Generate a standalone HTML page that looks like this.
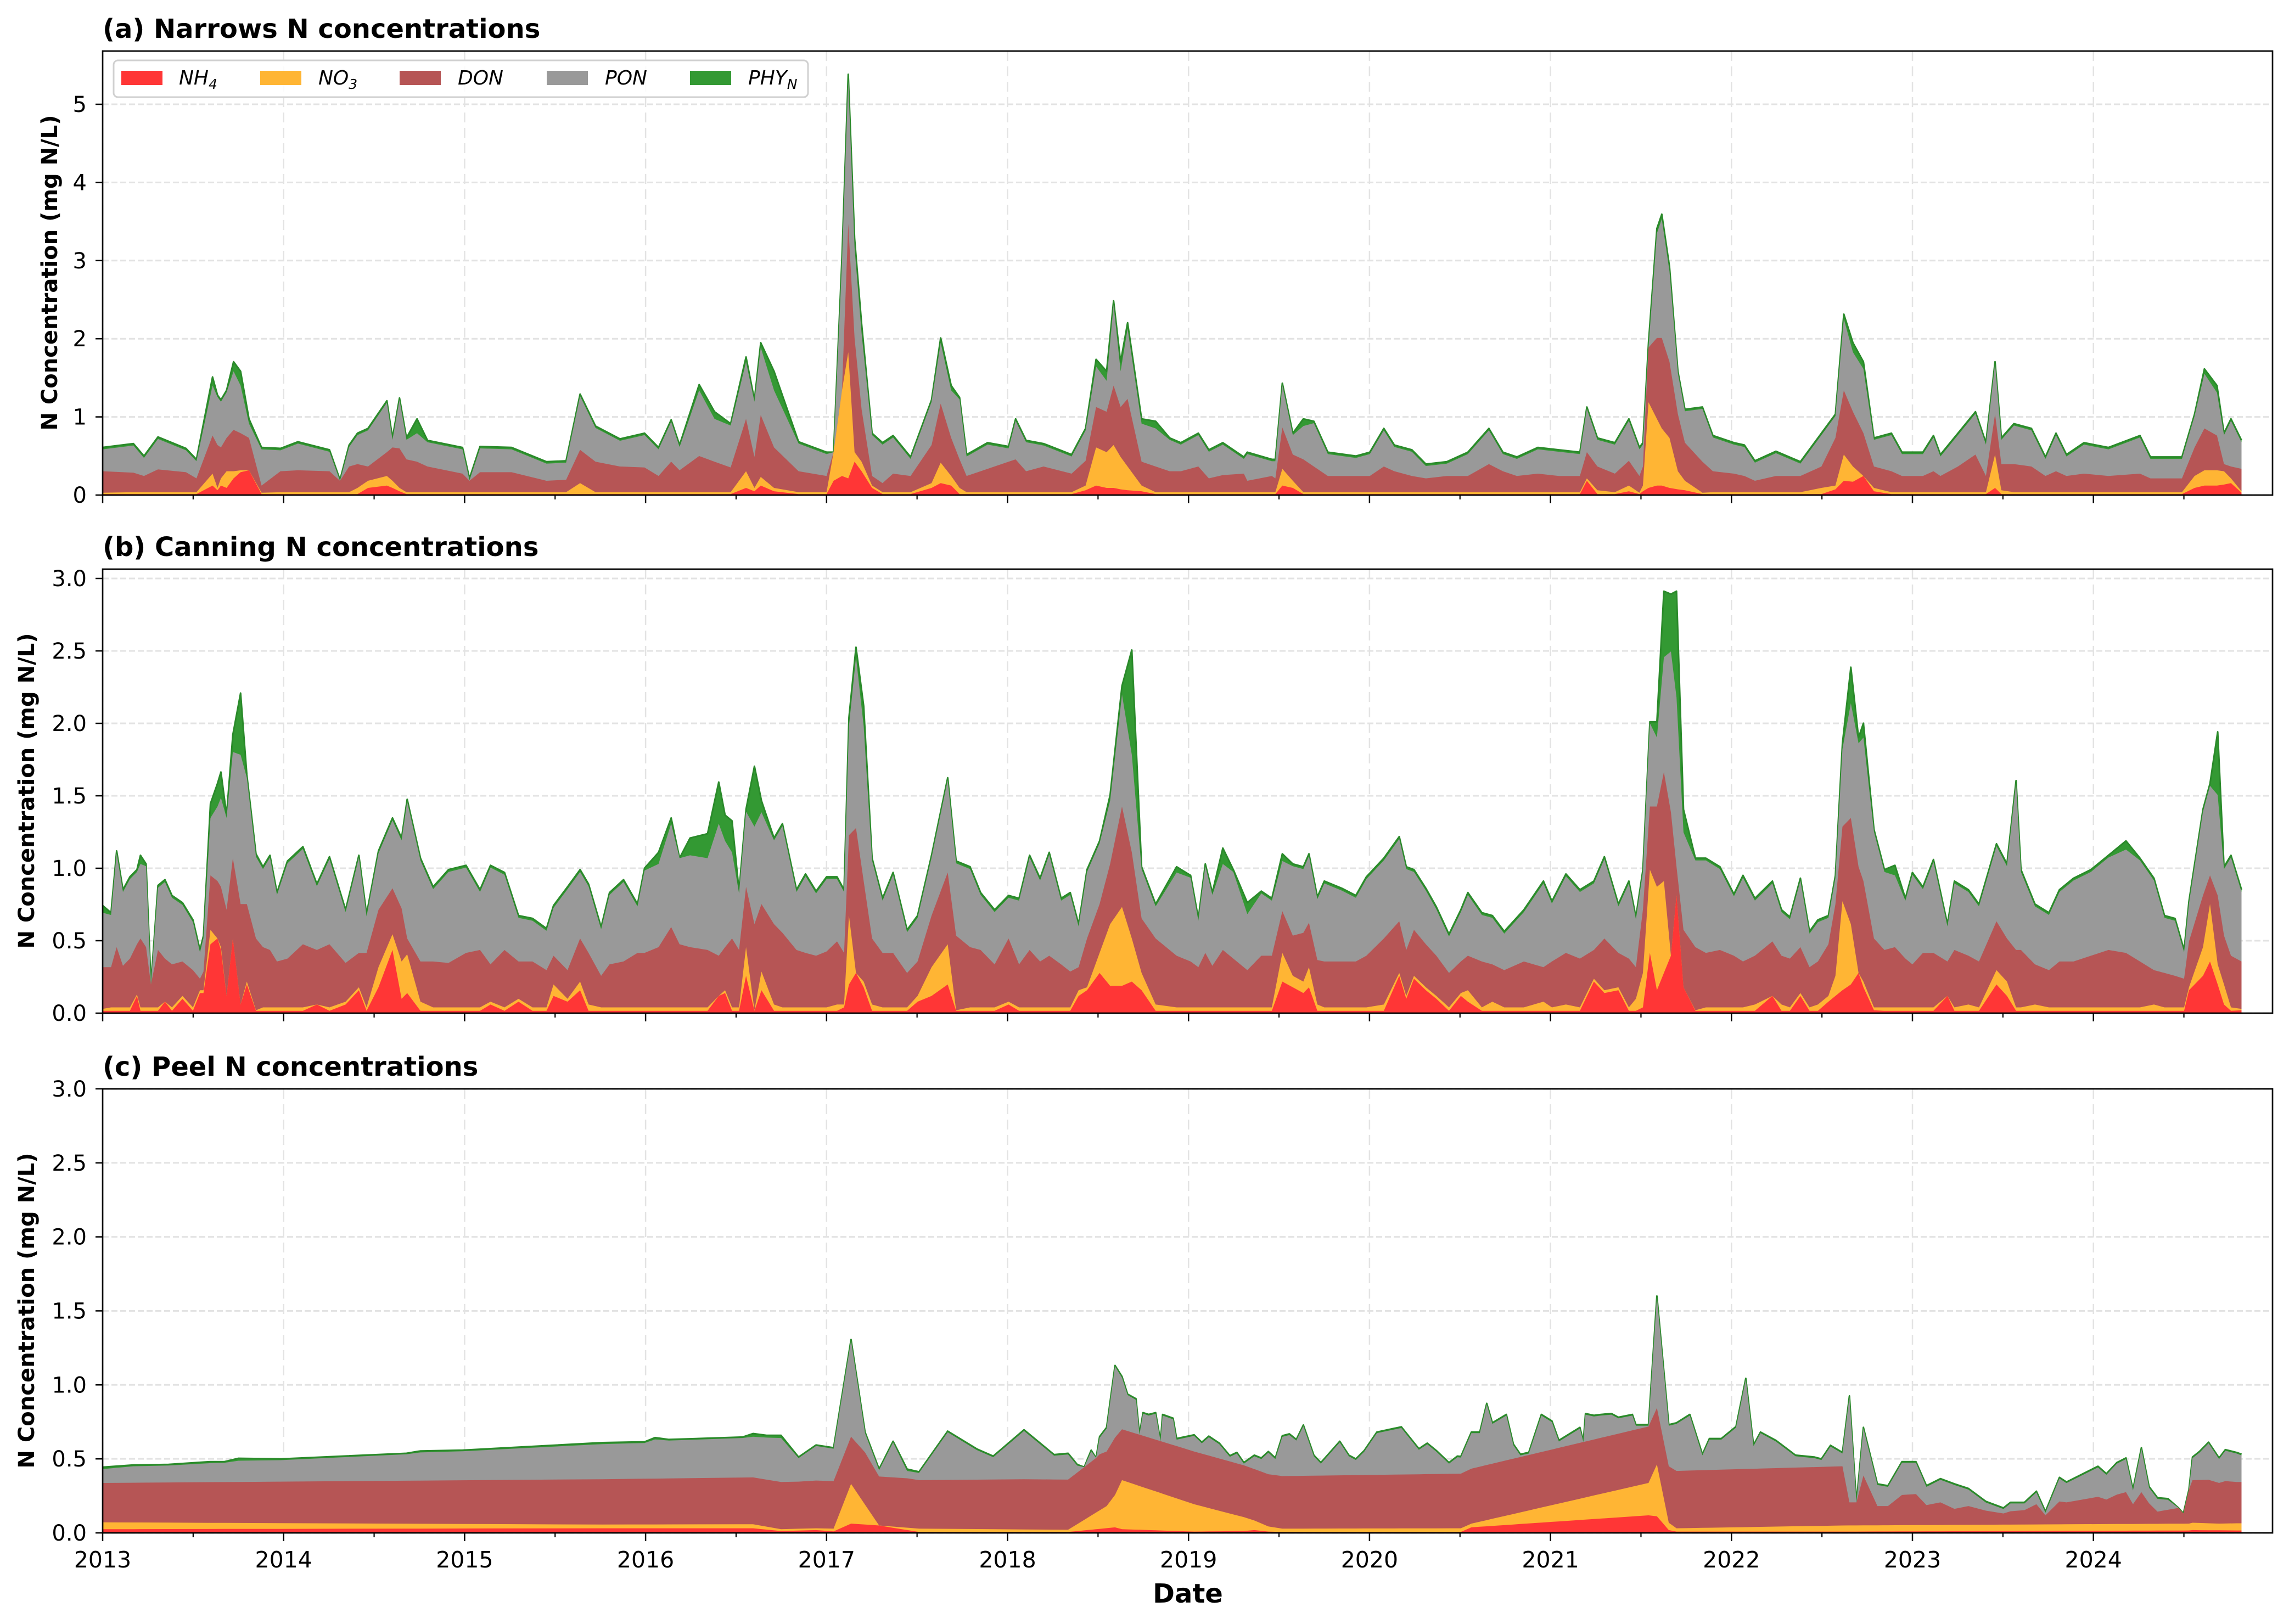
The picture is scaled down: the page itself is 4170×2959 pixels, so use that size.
<!DOCTYPE html>
<html><head><meta charset="utf-8"><style>
html,body{margin:0;padding:0;background:#fff;}
svg{display:block;font-family:"DejaVu Sans","Liberation Sans",sans-serif;}
</style></head><body>
<svg id="s" xmlns="http://www.w3.org/2000/svg" width="4170" height="2959" viewBox="0 0 4170 2959">
<rect width="4170" height="2959" fill="#fff"/>
<g id="grid"></g>
<g id="data"></g>
<g id="axes"></g>
<g font-size="40" fill="#000">
<text x="187" y="69" font-size="48" font-weight="bold">(a) Narrows N concentrations</text>
<text x="187" y="1013" font-size="48" font-weight="bold">(b) Canning N concentrations</text>
<text x="187" y="1960" font-size="48" font-weight="bold">(c) Peel N concentrations</text>
<text transform="translate(104,497) rotate(-90)" text-anchor="middle" font-size="40" font-weight="bold">N Concentration (mg N/L)</text>
<text transform="translate(62,1441) rotate(-90)" text-anchor="middle" font-size="40" font-weight="bold">N Concentration (mg N/L)</text>
<text transform="translate(62,2388) rotate(-90)" text-anchor="middle" font-size="40" font-weight="bold">N Concentration (mg N/L)</text>
<text x="2164" y="2920" text-anchor="middle" font-size="48" font-weight="bold">Date</text>
</g>
<g id="legend">
<rect x="207" y="110" width="1265" height="67" rx="8" fill="#fff" fill-opacity="0.85" stroke="#d0d0d0" stroke-width="3"/>
<rect x="221" y="129" width="75" height="26" fill="#ff3636"/>
<rect x="474" y="129" width="75" height="26" fill="#ffb534"/>
<rect x="728" y="129" width="75" height="26" fill="#b65555"/>
<rect x="996" y="129" width="75" height="26" fill="#999999"/>
<rect x="1257" y="129" width="75" height="26" fill="#339933"/>
<g font-size="36" font-style="italic" fill="#000">
<text x="326" y="154">NH<tspan font-size="25" dy="8">4</tspan></text>
<text x="580" y="154">NO<tspan font-size="25" dy="8">3</tspan></text>
<text x="834" y="154">DON</text>
<text x="1102" y="154">PON</text>
<text x="1363" y="154">PHY<tspan font-size="25" dy="8">N</tspan></text>
</g>
</g>
</svg>
<script>
(function(){
var NS="http://www.w3.org/2000/svg";
var X0=187,X1=4140,PY=329.7;
function X(t){return X0+(t-2013)*PY;}
var panels=[
 {top:93,bot:902,per:142.4,ticks:[0,1,2,3,4,5],fmt:0,labels:false},
 {top:1037,bot:1846,per:264,ticks:[0,0.5,1,1.5,2,2.5,3],fmt:1,labels:false},
 {top:1984,bot:2793,per:269.7,ticks:[0,0.5,1,1.5,2,2.5,3],fmt:1,labels:true}
];
function el(n,a,p){var e=document.createElementNS(NS,n);for(var k in a)e.setAttribute(k,a[k]);p.appendChild(e);return e;}
var G=document.getElementById('grid'),D=document.getElementById('data'),A=document.getElementById('axes');
panels.forEach(function(p){
 for(var y=2013;y<=2024;y++){el('line',{x1:X(y),x2:X(y),y1:p.top,y2:p.bot,stroke:'#e3e3e3','stroke-width':2.5,'stroke-dasharray':'18 10'},G);}
 p.ticks.forEach(function(v){var yy=p.bot-v*p.per;el('line',{x1:X0,x2:X1,y1:yy,y2:yy,stroke:'#e3e3e3','stroke-width':3,'stroke-dasharray':'11 5'},G);});
});
var LT=function(xz){return 2013+(xz-6)/258.5;}, RT=function(xz){return 2019+(xz-11)/258.5;};
var aL=[[6,820,null,870,915,918],[50,812,null,873],[65,838,null,880],[85,798,null,866],[125,822,null,872],[140,845,null,885],[163,672,690,795,875,900],[170,710,null,815,905,910],[175,720,null,820,885,900],[183,700,null,800,870,905],[193,640,660,783,870,885],[203,660,690,790,868,872],[215,760,770,800,868,868],[233,820,null,900,915,918],[260,822,null,870],[285,808,null,868],[330,825,null,870],[345,888,null,890],[358,815,null,860],[370,790,null,855,905],[385,780,null,860,890,905],[412,722,null,830,880,900],[420,800,null,820,890,905],[430,716,null,822,905,912],[440,800,null,845],[455,760,790,850],[470,805,null,860],[520,820,null,875],[530,885,null,890],[545,818,null,872],[590,820,null,872],[640,850,null,890],[668,848,null,888],[688,708,null,825,895],[710,775,null,850],[745,802,null,860],[780,790,null,862],[800,820,null,880],[818,762,null,850],[830,815,null,868],[858,688,700,838],[880,745,760,850],[903,770,null,862],[925,630,640,760,870,905],[937,720,null,840,905,912],[946,600,610,752,882,900],[965,660,700,820,905,912],[1000,808,null,870],[1040,830,null,880],[1050,860,null,870,830,890],[1062,420,430,700,700,880],[1071,36,50,350,620,885],[1080,380,400,590,830,850],[1090,560,580,740,850,870],[1105,790,null,880,900,905],[1120,810,null,895],[1135,795,null,875],[1160,840,null,880],[1190,720,null,815,895,905],[1203,590,600,728,852,895],[1218,690,700,800,880,900],[1230,715,null,845,905],[1240,835,null,880],[1270,810,null,865],[1300,818,null,850],[1310,760,null,845],[1325,805,null,870],[1350,812,null,860],[1390,835,null,875],[1410,780,null,848,900,910],[1425,635,650,735,820,900],[1440,660,680,745,830,905],[1450,512,520,690,815,905],[1460,640,660,735,840,908],[1470,558,570,718,860,910],[1490,760,770,850,900,912],[1510,765,780,860],[1530,800,null,870]];
var aR=[[0,810,null,870],[25,790,null,860],[40,825,null,885],[60,810,null,878],[90,840,null,875],[95,830,null,890],[130,845,null,880],[135,845,null,885],[145,685,null,778,865,900],[160,790,null,835,890,905],[175,760,775,845],[190,765,null,860],[210,830,null,880],[250,838,null,880],[270,830,null,880],[290,780,null,860],[305,815,null,870],[330,825,null,880],[350,855,null,885],[380,850,null,880],[410,830,null,880],[440,780,null,855],[460,830,null,870],[480,840,null,880],[510,820,null,875],[540,825,null,880],[570,830,null,880],[580,735,null,830,885,890],[595,800,null,860,910],[620,810,null,875],[640,760,null,848,900,912],[655,820,null,880,915],[660,810,null,860,900,912],[668,600,610,610,725,905],[680,360,370,590,760,900],[687,330,340,590,780,900],[698,440,450,640,800,905],[710,660,null,750,870,908],[720,740,null,810,890,910],[745,735,null,850,915],[760,795,null,870],[790,810,null,875],[805,815,null,880],[820,848,null,890],[850,828,null,880],[885,850,null,880],[915,790,null,860,905],[935,750,null,800,900,908],[947,540,550,700,835,890],[960,600,620,745,860,892],[975,640,655,790,880,880],[990,800,null,860,905,912],[1015,790,null,870],[1030,830,null,880],[1060,830,null,880],[1075,795,null,870],[1085,835,null,880],[1110,790,null,860],[1135,745,null,835],[1150,810,null,880],[1163,640,null,750,835,905],[1172,800,null,855,910],[1190,770,null,855],[1215,780,null,860],[1235,840,null,880],[1250,790,null,870],[1265,835,null,880],[1290,810,null,875],[1325,820,null,880],[1370,795,null,875],[1385,840,null,885],[1430,840,null,885],[1448,750,null,820,880,905],[1462,655,665,780,868,900],[1480,690,705,795,868,900],[1490,790,null,855,870,898],[1500,760,null,860,885,895],[1515,805,null,865,912,915]];
var bL=[[6,1185,1210,1400,1545,1552],[18,1210,null,1400],[26,995,null,1330],[35,1130,null,1395],[45,1085,null,1370],[55,1060,null,1320,1495,1500],[60,1010,1040,1300],[68,1040,null,1330],[75,1460,null,1460],[85,1115,null,1340],[95,1095,null,1370,1520,1520],[105,1150,null,1390],[120,1175,null,1380,1500,1510],[135,1235,null,1410],[145,1340,null,1440,1480,1490],[150,1290,null,1415,1480,1490],[160,830,880,1080,1270,1320],[170,760,840,1100,1300,1300],[175,720,810,1120,1330,1340],[183,870,880,1200,1520,1500],[192,590,650,1020,1300,1300],[203,445,660,1180,1530,1530],[212,730,740,1180,1450,1460],[225,1005,1015,1300,1550],[235,1050,null,1330],[245,1010,null,1340],[255,1140,null,1380],[270,1030,null,1370],[292,980,null,1320],[312,1110,null,1340,1530,1530],[330,1015,null,1320],[353,1200,null,1385,1520,1530],[372,1010,null,1350,1470,1480],[383,1215,null,1350],[400,995,null,1200,1400,1470],[420,880,null,1125,1285,1340],[433,950,null,1195,1380,1510],[441,815,null,1300,1355,1490],[460,1020,null,1380,1520],[478,1120,null,1380],[500,1060,null,1385],[525,1045,null,1350],[545,1130,null,1340],[560,1045,null,1390,1520,1530],[580,1070,null,1340],[600,1220,null,1380,1510,1520],[620,1230,null,1380],[640,1265,null,1410],[650,1185,null,1360,1460,1500],[670,1120,null,1410,1510,1520],[688,1060,null,1300,1450,1480],[700,1110,null,1350,1530],[718,1260,null,1430],[730,1140,null,1390],[750,1095,null,1380],[770,1180,null,1350],[780,1055,null,1350],[800,1000,1040,1330],[818,880,900,1260],[830,1040,1020,1320],[845,950,1010,1330],[870,935,1020,1340],[886,755,900,1360,1500,1500],[895,870,960,1330,1480,1490],[905,890,1000,1300],[915,1135,null,1340],[925,850,null,1120,1330,1430],[937,700,910,1250,1550],[947,820,860,1180,1415,1480],[965,950,null,1250,1530],[977,900,null,1280],[997,1130,null,1340],[1010,1075,null,1350],[1025,1135,null,1360],[1040,1085,null,1345],[1055,1085,null,1310,1530],[1065,1130,null,1350,1530,1540],[1072,530,560,940,1220,1460],[1082,285,320,915,1510,1420],[1093,490,560,1100,1450,1470],[1105,1020,null,1300,1530],[1120,1160,null,1350],[1135,1070,null,1350],[1155,1270,null,1420,1540],[1170,1220,null,1380,1500,1520],[1190,1010,null,1220,1400,1500],[1213,740,null,1070,1320,1460],[1225,1030,null,1290,1550],[1245,1050,null,1330],[1260,1140,null,1340],[1280,1200,null,1390],[1300,1150,null,1300,1520,1530],[1315,1160,null,1390],[1330,1010,null,1340],[1345,1090,null,1380],[1358,1000,null,1360],[1375,1160,null,1390],[1388,1140,null,1415],[1400,1250,null,1400,1480,1500],[1412,1060,null,1300,1470,1480],[1430,960,null,1180,1350,1420],[1445,800,820,1040,1250,1465],[1462,420,450,840,1190,1465],[1476,295,660,1000,1300,1450],[1490,1050,null,1230,1420,1480],[1510,1180,null,1300,1530],[1540,1050,1070,1360],[1560,1080,null,1380]];
var bR=[[0,1040,1075,1350,1545,1550],[25,1230,null,1400],[35,1040,null,1350],[45,1140,null,1395],[60,985,1040,1340],[75,1060,null,1370],[95,1175,1215,1410],[115,1135,null,1360],[130,1160,null,1360,1540],[145,1005,1030,1205,1350,1450],[160,1040,null,1290,1430,1470],[175,1050,null,1280,1450,1490],[183,1005,null,1245,1400,1470],[195,1155,null,1375,1530],[205,1100,null,1380],[230,1125,null,1380],[250,1150,null,1380],[265,1085,null,1360],[290,1020,null,1300,1530],[312,945,null,1240,1420,1430],[322,1050,null,1340,1500,1510],[333,1060,null,1270,1430,1440],[350,1125,null,1320,1470,1480],[365,1190,null,1360,1500,1510],[383,1285,null,1420],[400,1200,null,1380,1490,1500],[410,1140,null,1360,1480,1520],[430,1210,null,1380],[445,1220,null,1390,1520],[462,1275,null,1410],[490,1200,null,1380],[518,1100,null,1400,1520],[530,1170,null,1380],[550,1075,null,1350,1530],[570,1130,null,1370],[590,1100,null,1340,1440,1450],[605,1015,null,1300,1480,1490],[625,1180,null,1350,1470,1480],[640,1100,null,1370],[650,1225,null,1400,1510],[660,1060,null,1200,1420,1540],[670,545,550,840,1060,1350],[680,545,600,840,1120,1480],[690,90,320,720,1100,1420],[700,100,300,860,1380,1360],[708,90,460,1050,1220,1150],[718,850,930,1270,1480,1470],[735,1020,null,1330,1550],[750,1020,null,1350],[770,1050,null,1340],[790,1145,null,1360],[803,1080,null,1380],[820,1160,null,1360,1530],[845,1100,null,1310,1500,1500],[858,1200,null,1360,1530],[870,1225,null,1370],[885,1090,null,1330,1490,1500],[898,1275,null,1400],[910,1235,null,1380,1530],[925,1220,null,1320,1500,1520],[935,1080,null,1180,1430,1500],[945,620,640,910,1170,1480],[957,355,480,880,1250,1460],[968,600,620,1050,1440,1420],[975,550,600,1100,1450,1470],[990,920,null,1300,1540,1550],[1005,1060,null,1340],[1020,1045,1080,1330],[1035,1160,null,1370],[1045,1070,null,1390],[1060,1120,null,1350],[1075,1025,null,1350],[1095,1250,null,1380,1500,1500],[1105,1100,null,1340],[1125,1130,null,1360,1530],[1140,1180,null,1380],[1165,970,null,1240,1410,1460],[1180,1040,null,1300,1450,1500],[1193,750,null,1340,1540],[1200,1060,null,1340],[1220,1180,null,1390,1530],[1240,1210,null,1410],[1255,1130,null,1380],[1275,1090,null,1380],[1300,1060,null,1360],[1325,1010,null,1340],[1350,960,990,1350],[1370,1020,null,1380],[1390,1090,null,1410,1530],[1405,1220,null,1420],[1420,1230,null,1430],[1433,1340,null,1440],[1440,1170,null,1310,1470,1480],[1460,850,null,1150,1330,1430],[1470,760,null,1080,1180,1380],[1481,580,800,1150,1390,1460],[1490,1050,null,1290,1460,1530],[1500,1010,null,1360],[1515,1130,null,1380,1545,1550]];
var cL=[[6,1030,1040,1115,1328,1365],[50,1018,1025],[100,1015],[160,1000,1008],[180,1000],[200,982,995],[260,985,992,1108],[440,955,960],[460,942,950],[520,938],[720,897,905,1095,1340,1360],[780,893],[795,870,880],[815,880],[920,867,872],[935,848,865,1085,1338,1360],[955,858,870],[975,858,872,1110,1365,1375],[1000,975,null,1108],[1025,910,915,1102,1360,1370],[1050,925,930,1105,1362,1377],[1075,340,null,865,1120,1335],[1095,840,null,950],[1115,1040,null,1080,1345,1345],[1135,890,null,1085],[1155,1040,1050,1090],[1172,1055,null,1100,1362,1380],[1213,835],[1255,932],[1278,970],[1322,828,null,1095],[1365,962],[1385,955,null,1097,1368,1380],[1398,1015],[1408,1040],[1418,938],[1425,990,null,980],[1430,865,null,960],[1440,815,null,945,1240],[1452,480,485,870,1180,1355],[1462,540,null,825,1100,1365],[1470,635,640],[1482,660],[1487,900],[1492,735,740],[1500,745],[1510,735],[1517,900],[1520,745],[1535,765],[1540,875],[1565,855,null,945,1230,1378]];
var cR=[[0,870,875,925,1205,1383],[20,855],[30,895],[40,862],[55,900],[70,968],[80,950],[90,1005,null,1020,1300,1375],[105,965,null,1040,1318,1370],[115,980],[125,945,null,1068,1350,1378],[135,980],[145,860,null,1078,1362,1380],[155,850],[165,880],[175,802],[190,965],[200,1005],[227,890],[240,965],[250,985],[262,940],[280,840],[315,812],[340,930],[352,900],[365,940],[383,1005],[395,970],[400,972,null,1065,1360,1380],[415,840,null,1038,1335,1355],[427,840],[437,685],[445,790],[465,745],[475,905],[485,960],[497,950],[515,745],[530,780],[540,885],[570,815],[575,890],[578,740],[590,750],[600,745],[615,740],[625,760],[645,745],[650,800],[668,800,null,810,1115,1290],[680,105,null,710,1015,1295],[697,800,null,1025,1330,1370],[708,790,null,1050,1360,1378],[727,745],[745,960],[755,875],[772,875],[793,810],[807,550],[818,910],[828,840],[850,885],[878,965],[905,975],[915,985],[928,912],[945,950,null,1025,1345,1378],[955,645,null,1220],[965,1220,null,1220],[975,815,null,1075],[995,1120,null,1240],[1010,1130,null,1240],[1030,1000,null,1180],[1050,1000,null,1175],[1065,1130,null,1235],[1085,1092,null,1220],[1105,1120,null,1255],[1125,1145,null,1240],[1150,1215,null,1265],[1175,1250,null,1280],[1185,1220,null,1268],[1205,1220,null,1262],[1222,1160,null,1230],[1235,1270,null,1290],[1255,1085,null,1215],[1265,1110,null,1220],[1310,1025,null,1190],[1322,1065,null,1205],[1337,1005,null,1178],[1350,980,null,1165],[1360,1150,null,1230],[1372,925,null,1165],[1383,1135,null,1225],[1395,1195,null,1270],[1410,1200,null,1260],[1425,1250,null,1250],[1432,1280,null,1280],[1440,1150,null,1150,1335,1372],[1445,975,null,1100,1330,1370],[1455,945],[1468,895,null,1098],[1483,980,null,1115,1335],[1492,935,null,1105],[1508,950,null,1110,1333,1372],[1515,960,null,1110,1333,1372]];
function vA(y){return (920-y)/164.2;} function vB(y){return (1560-y)/504.8;} function vC(y){return (1385-y)/800;}
function interp(list,t){if(t<=list[0][0])return list[0][1];for(var i=1;i<list.length;i++){if(t<=list[i][0]){var a=list[i-1],b=list[i];return a[1]+(b[1]-a[1])*(t-a[0])/(b[0]-a[0]);}}return list[list.length-1][1];}
function build(L,R,vf,defs,gOff){
 var rows=[];L.forEach(function(r){var t=LT(r[0]);rows.push([t].concat(r.slice(1)));});
 var last=rows[rows.length-1][0];
 R.forEach(function(r){var t=RT(r[0]);if(t>last+0.005)rows.push([t].concat(r.slice(1)));});
 rows.forEach(function(r){for(var k=1;k<=5;k++)if(r[k]===undefined)r[k]=null;if(r[2]===null)r[2]=r[1]+gOff;});
 var out=[],lists=[];
 for(var k=1;k<=5;k++){
  if(defs&&k>=4){lists[k]=null;continue;}
  var l=[];rows.forEach(function(r){if(r[k]!==null)l.push([r[0],r[k]]);});lists[k]=l;
 }
 rows.forEach(function(r){
  var v=[];
  for(var k=1;k<=5;k++){var y;
   if(r[k]!==null)y=r[k];else if(lists[k])y=interp(lists[k],r[0]);else y=defs[k-4];
   v[k]=vf(y);}
  var nh4=Math.max(0,v[5]),no3=Math.max(nh4,v[4]),don=Math.max(no3,v[3]),pon=Math.max(don,v[2]),tot=Math.max(pon,v[1]);
  out.push([r[0],nh4,no3,don,pon,tot]);
 });
 return out;
}
var data=[build(aL,aR,vA,[914,918],4),build(bL,bR,vB,[1540,1552],8),build(cL,cR,vC,null,6)];
var cols=['#ff3636','#ffb534','#b65555','#999999','#339933'];
data.forEach(function(d,pi){
 var p=panels[pi];function Y(v){return p.bot-v*p.per;}
 for(var k=5;k>=1;k--){
  var s='M'+X(d[0][0]).toFixed(1)+','+p.bot;
  d.forEach(function(r){s+='L'+X(r[0]).toFixed(1)+','+Y(r[k]).toFixed(1);});
  s+='L'+X(d[d.length-1][0]).toFixed(1)+','+p.bot+'Z';
  el('path',{d:s,fill:cols[k-1]},D);
  if(k==5){var s2='';d.forEach(function(r,i){s2+=(i?'L':'M')+X(r[0]).toFixed(1)+','+Y(r[5]).toFixed(1);});
   el('path',{d:s2,fill:'none',stroke:'#2a8a2a','stroke-width':3,'stroke-linejoin':'round'},D);}
 }
 el('rect',{x:X0,y:p.top,width:X1-X0,height:p.bot-p.top,fill:'none',stroke:'#000','stroke-width':2.7},A);
 p.ticks.forEach(function(v){var yy=p.bot-v*p.per;el('line',{x1:X0-13,x2:X0,y1:yy,y2:yy,stroke:'#000','stroke-width':2.5},A);
  var tx=el('text',{x:158,y:yy+14,'text-anchor':'end','font-size':40},A);tx.textContent=p.fmt?v.toFixed(1):String(v);});
 for(var y=2013;y<=2024;y++){
  el('line',{x1:X(y),x2:X(y),y1:p.bot,y2:p.bot+15,stroke:'#000','stroke-width':2.5},A);
  el('line',{x1:X(y+0.5),x2:X(y+0.5),y1:p.bot,y2:p.bot+8,stroke:'#000','stroke-width':2.2},A);
  if(p.labels){var tx=el('text',{x:X(y),y:2856,'text-anchor':'middle','font-size':41},A);tx.textContent=String(y);}
 }
});
})();
</script>
</body></html>
